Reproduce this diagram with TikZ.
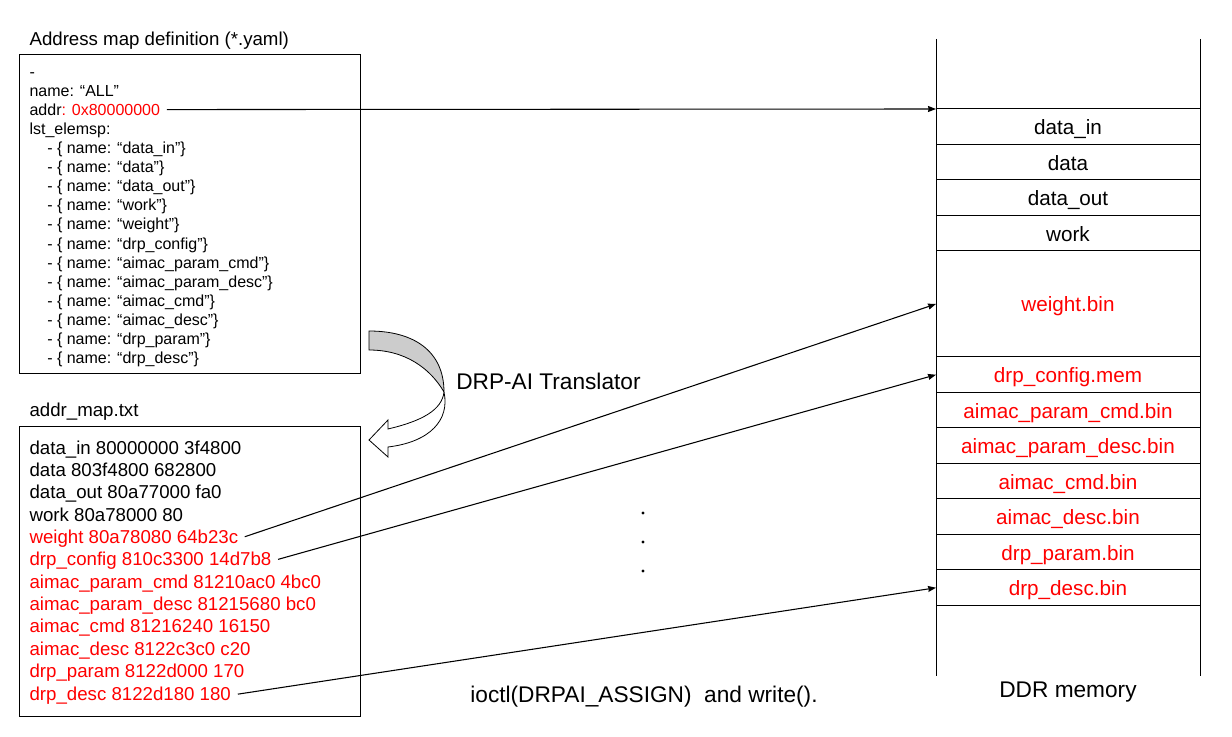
\documentclass[tikz,border=0pt]{standalone}
\usepackage{fontspec}
\setmainfont{Liberation Sans}
\usepackage{xcolor}
\usepackage{tikz}
\usetikzlibrary{arrows.meta, positioning, calc}
\tikzstyle{head} = [anchor=base west, inner sep=0pt, font=\fontsize{14}{16}\selectfont]
\tikzstyle{yamltxt} = [anchor=base west, inner sep=0pt, font=\fontsize{12}{14}\selectfont]
\tikzstyle{maptxt} = [anchor=base west, inner sep=0pt, font=\fontsize{14}{16}\selectfont]
\tikzstyle{maptxtred} = [maptxt, text=red]
\tikzstyle{filebox} = [rectangle, draw=black, line width=0.75pt, minimum width=255.75pt]
\tikzstyle{cell} = [rectangle, draw=black, line width=0.75pt, minimum width=198pt, minimum height=26.625pt, outer sep=0pt, inner sep=0pt, text height=12pt, text depth=0pt, font=\fontsize{15.5}{18}\selectfont]
\tikzstyle{cellred} = [cell, text=red]
\tikzstyle{caption} = [anchor=base, inner sep=0pt, font=\fontsize{17}{20}\selectfont]
\tikzstyle{dot} = [circle, fill=black, inner sep=0pt, minimum size=2.6pt]
\tikzstyle{arrow} = [line width=0.8pt, -{Stealth[length=6pt, width=4.5pt, inset=0.5pt]}, shorten <=5pt]

\begin{document}
\begin{tikzpicture}[x=0.75pt, y=-0.75pt]
\useasboundingbox (0,0) rectangle (1232,737);

% yaml file
\node (yamltitle) [head] at (29.3,46) {Address map definition (*.yaml)};
\node (yamlbox) [filebox, minimum height=239.25pt] at (190,214.5) {};
\node (ydash) [yamltxt] at (29.3,78) {-};
\node (yname) [yamltxt] at (29.3,96.7) {name: “ALL”};
\node (yaddr) [yamltxt] at (29.3,115.3) {addr\textcolor{red}{: 0x80000000}};
\node (ylst) [yamltxt] at (29.3,134.4) {lst\_elemsp:};
\node (yin) [yamltxt] at (47,153.5) {- \{ name: “data\_in”\}};
\node (ydata) [yamltxt] at (47,172.7) {- \{ name: “data”\}};
\node (yout) [yamltxt] at (47,191.8) {- \{ name: “data\_out”\}};
\node (ywork) [yamltxt] at (47,210.9) {- \{ name: “work”\}};
\node (yweight) [yamltxt] at (47,230) {- \{ name: “weight”\}};
\node (ycfg) [yamltxt] at (47,249.2) {- \{ name: “drp\_config”\}};
\node (yapc) [yamltxt] at (47,268.3) {- \{ name: “aimac\_param\_cmd”\}};
\node (yapd) [yamltxt] at (47,287.4) {- \{ name: “aimac\_param\_desc”\}};
\node (yacmd) [yamltxt] at (47,306.6) {- \{ name: “aimac\_cmd”\}};
\node (yadesc) [yamltxt] at (47,325.7) {- \{ name: “aimac\_desc”\}};
\node (ydparam) [yamltxt] at (47,344.8) {- \{ name: “drp\_param”\}};
\node (yddesc) [yamltxt] at (47,364) {- \{ name: “drp\_desc”\}};

% addr_map.txt
\node (maptitle) [head] at (29.3,416.7) {addr\_map.txt};
\node (mapbox) [filebox, minimum height=216.75pt] at (190,571.5) {};
\node (min) [maptxt] at (29.3,454.3) {data\_in 80000000 3f4800};
\node (mdata) [maptxt] at (29.3,476.6) {data 803f4800 682800};
\node (mdout) [maptxt] at (29.3,499) {data\_out 80a77000 fa0};
\node (mwork) [maptxt] at (29.3,521.3) {work 80a78000 80};
\node (mweight) [maptxtred] at (29.3,543.7) {weight 80a78080 64b23c};
\node (mcfg) [maptxtred] at (29.3,566) {drp\_config 810c3300 14d7b8};
\node (mapc) [maptxtred] at (29.3,588.3) {aimac\_param\_cmd 81210ac0 4bc0};
\node (mapd) [maptxtred] at (29.3,610.7) {aimac\_param\_desc 81215680 bc0};
\node (macmd) [maptxtred] at (29.3,633) {aimac\_cmd 81216240 16150};
\node (madesc) [maptxtred] at (29.3,655.4) {aimac\_desc 8122c3c0 c20};
\node (mdparam) [maptxtred] at (29.3,677.7) {drp\_param 8122d000 170};
\node (mddesc) [maptxtred] at (29.3,700) {drp\_desc 8122d180 180};

% translator arrow
\draw [fill=gray!40, line width=0.6pt] (369,331) .. controls (415,331) and (444,352) .. (444,392) .. controls (430,368) and (405,350) .. (369,350) -- cycle;
\draw [fill=white, line width=0.6pt] (444,392) .. controls (450,420) and (430,442) .. (388,447) -- (388,457) -- (369,440) -- (388,420) -- (388,429) .. controls (422,421) and (442,410) .. (444,392);
\node (transl) [caption, anchor=base west] at (456,389.3) {DRP-AI Translator};

% DDR memory
\draw [line width=0.75pt] (936,39) -- (936,676);
\draw [line width=0.75pt] (1200,39) -- (1200,676);
\node (din) [cell, anchor=north] at (1068,109) {data\_in};
\node (ddata) [cell, below=0pt of din] {data};
\node (dout) [cell, below=0pt of ddata] {data\_out};
\node (dwork) [cell, below=0pt of dout] {work};
\node (dweight) [cellred, below=0pt of dwork, minimum height=79.5pt] {weight.bin};
\node (dcfg) [cellred, below=0pt of dweight] {drp\_config.mem};
\node (dapc) [cellred, below=0pt of dcfg] {aimac\_param\_cmd.bin};
\node (dapd) [cellred, below=0pt of dapc] {aimac\_param\_desc.bin};
\node (dacmd) [cellred, below=0pt of dapd] {aimac\_cmd.bin};
\node (dadesc) [cellred, below=0pt of dacmd] {aimac\_desc.bin};
\node (ddparam) [cellred, below=0pt of dadesc] {drp\_param.bin};
\node (dddesc) [cellred, below=0pt of ddparam] {drp\_desc.bin};
\node (ddr) [caption] at (1068,697) {DDR memory};

\node (dot1) [dot] at (643,513) {};
\node (dot2) [dot] at (643,542) {};
\node (dot3) [dot] at (643,571) {};
\node (ioctl) [caption] at (644,702) {ioctl(DRPAI\_ASSIGN)\ \ and write().};

\draw [arrow] (yaddr.east) -- (din.north west);
\draw [arrow] (mweight.east) -- (dweight.west);
\draw [arrow] (mcfg.east) -- (dcfg.west);
\draw [arrow] (mddesc.east) -- (dddesc.west);
\end{tikzpicture}
\end{document}
